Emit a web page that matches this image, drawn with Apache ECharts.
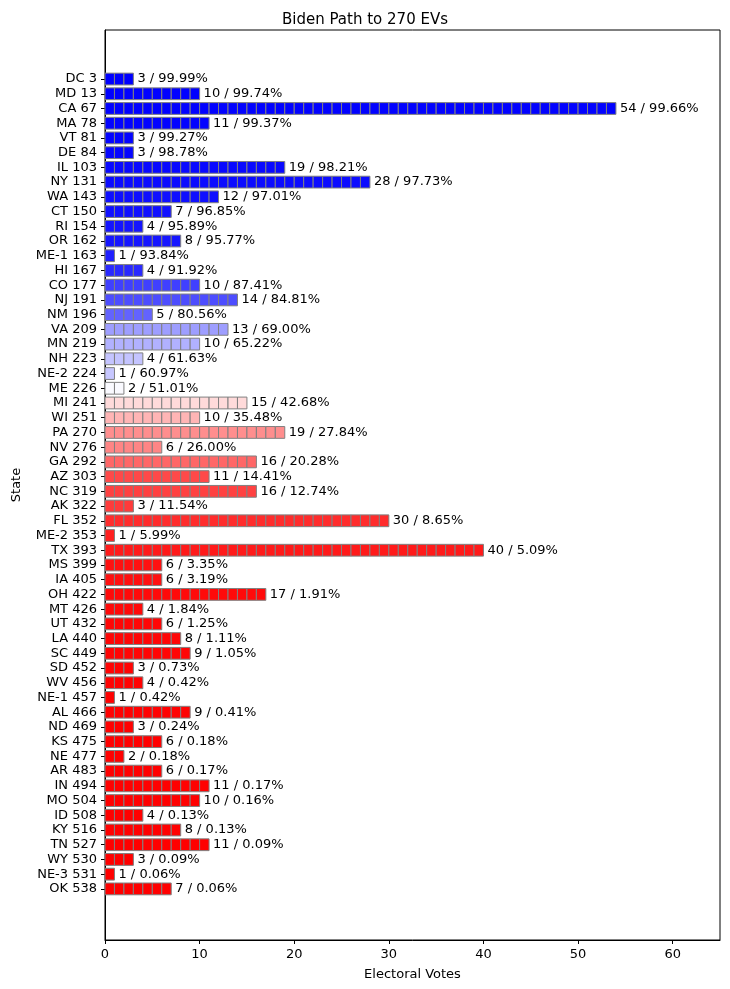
<!DOCTYPE html>
<html>
<head>
<meta charset="utf-8">
<script src="https://cdn.jsdelivr.net/npm/echarts@6/dist/echarts.min.js"></script>
<style>html,body{margin:0;padding:0;background:#fff}#chart{width:730px;height:989px}</style>
</head>
<body>
<div id="chart"></div>
<script>
// states in path order, cumulative EVs, EVs per state, Biden win probability (%)
var states = ['DC','MD','CA','MA','VT','DE','IL','NY','WA','CT','RI','OR','ME-1','HI','CO','NJ','NM','VA','MN','NH','NE-2','ME','MI','WI','PA','NV','GA','AZ','NC','AK','FL','ME-2','TX','MS','IA','OH','MT','UT','LA','SC','SD','WV','NE-1','AL','ND','KS','NE','AR','IN','MO','ID','KY','TN','WY','NE-3','OK']
var cumulative = [3,13,67,78,81,84,103,131,143,150,154,162,163,167,177,191,196,209,219,223,224,226,241,251,270,276,292,303,319,322,352,353,393,399,405,422,426,432,440,449,452,456,457,466,469,475,477,483,494,504,508,516,527,530,531,538]
var evs = [3,10,54,11,3,3,19,28,12,7,4,8,1,4,10,14,5,13,10,4,1,2,15,10,19,6,16,11,16,3,30,1,40,6,6,17,4,6,8,9,3,4,1,9,3,6,2,6,11,10,4,8,11,3,1,7]
var probs = [99.99,99.74,99.66,99.37,99.27,98.78,98.21,97.73,97.01,96.85,95.89,95.77,93.84,91.92,87.41,84.81,80.56,69.00,65.22,61.63,60.97,51.01,42.68,35.48,27.84,26.00,20.28,14.41,12.74,11.54,8.65,5.99,5.09,3.35,3.19,1.91,1.84,1.25,1.11,1.05,0.73,0.42,0.42,0.41,0.24,0.18,0.18,0.17,0.17,0.16,0.13,0.13,0.09,0.09,0.06,0.06]
var xTicks = [0,10,20,30,40,50,60]

var labels = states.map(function (s, i) { return s + ' ' + cumulative[i] })
var idx = states.map(function (s, i) { return i })

// blue-white-red colormap
function bwr(p) {
  var v = p / 100, r, g, b
  if (v >= 0.5) { var t = (v - 0.5) / 0.5; r = g = Math.round(255 * (1 - t)); b = 255 }
  else { var t = (0.5 - v) / 0.5; r = 255; g = b = Math.round(255 * (1 - t)) }
  return 'rgb(' + r + ',' + g + ',' + b + ')'
}

var chart = echarts.init(document.getElementById('chart'))
var font = 'DejaVu Sans'
chart.setOption({
  animation: false,
  textStyle: { fontFamily: font },
  title: { text: 'Biden Path to 270 EVs', left: 'center', top: 8,
    textStyle: { fontFamily: font, fontSize: 15, fontWeight: 'normal', color: '#000' } },
  grid: { left: 105, right: 10, top: 30, bottom: 49 },
  xAxis: {
    type: 'value', min: 0, max: 65, interval: 10,
    name: 'Electoral Votes', nameLocation: 'middle', nameGap: 28,
    nameTextStyle: { fontFamily: font, fontSize: 13, color: '#000' },
    axisLine: { show: true, onZero: false, lineStyle: { color: '#000' } },
    axisTick: { show: true, length: 4, lineStyle: { color: '#000' }, customValues: xTicks },
    axisLabel: { color: '#000', fontSize: 13, fontFamily: font, customValues: xTicks },
    splitLine: { show: false }
  },
  yAxis: {
    type: 'value', inverse: true, min: -3.33, max: 58.47,
    name: 'State', nameLocation: 'middle', nameGap: 82, nameRotate: 90,
    nameTextStyle: { fontFamily: font, fontSize: 13, color: '#000' },
    axisLine: { show: true, onZero: false, lineStyle: { color: '#000' } },
    axisTick: { show: true, length: 4, lineStyle: { color: '#000' }, customValues: idx },
    axisLabel: { color: '#000', fontSize: 13, fontFamily: font, customValues: idx,
      formatter: function (v) { return labels[Math.round(v)] || '' } },
    splitLine: { show: false }
  },
  series: [{
    type: 'custom',
    data: idx.map(function (i) { return [i, evs[i], probs[i]] }),
    renderItem: function (params, api) {
      var i = api.value(0), n = api.value(1), p = api.value(2)
      var children = []
      var h = api.size([0, 0.8])[1]
      for (var k = 0; k < n; k++) {
        var a = api.coord([k, i]), b = api.coord([k + 1, i])
        children.push({ type: 'rect',
          shape: { x: a[0], y: a[1] - h / 2, width: b[0] - a[0], height: h },
          style: { fill: bwr(p), stroke: '#808080', lineWidth: 1 } })
      }
      var end = api.coord([n, i])
      children.push({ type: 'text',
        style: { x: end[0] + 4, y: end[1], text: n + ' / ' + p.toFixed(2) + '%',
          fill: '#000', font: '13px DejaVu Sans', verticalAlign: 'middle', align: 'left' } })
      return { type: 'group', children: children }
    }
  }],
  graphic: [{ type: 'rect', shape: { x: 105, y: 30, width: 615, height: 910 },
    style: { fill: 'none', stroke: '#000', lineWidth: 1 }, silent: true }]
})
</script>
</body>
</html>
